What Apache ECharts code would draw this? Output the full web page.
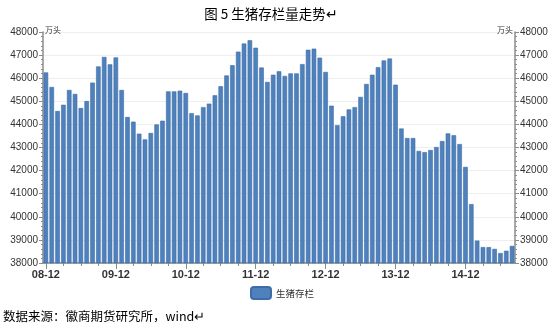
<!DOCTYPE html>
<html>
<head>
<meta charset="utf-8">
<script src="https://cdn.jsdelivr.net/npm/echarts@6/dist/echarts.min.js"></script>
<style>html,body{margin:0;padding:0;background:#fff}#c{width:559px;height:328px}</style>
</head>
<body>
<div id="c"></div>
<script>
const months = (function(){ const a=[]; let y=8,m=12; for(let i=0;i<81;i++){ a.push(String(y).padStart(2,'0')+'-'+String(m).padStart(2,'0')); m++; if(m>12){m=1;y++;} } return a; })();
const values = [
46250,45620,44580,44850,45490,45320,44710,45010,45810,46510,46920,46600,
46900,45490,44320,44120,43600,43350,43630,44000,44160,45430,45430,45460,
45360,44490,44390,44750,44900,45260,45650,46120,46560,47150,47500,47640,
47320,46460,45840,46150,46300,46100,46210,46210,46610,47230,47280,46890,
46270,44810,43970,44350,44650,44750,45190,45750,46150,46480,46770,46850,
45720,43820,43410,43410,42850,42800,42890,43020,43280,43610,43530,43150,
42160,40550,38970,38690,38690,38610,38430,38530,38740
];
const seriesName = '生猪存栏';
const titleText = '图 5 生猪存栏量走势';
const unitText = '万头';
const sourceText = '数据来源：徽商期货研究所，wind';
const yMin = 38000, yMax = 48000, yStep = 1000;

const FONT = 'Liberation Sans, Arial, Noto Sans CJK SC, sans-serif';
const CJK = 'Noto Sans CJK SC, sans-serif';
const axisCol = '#8c8c8c';

const chart = echarts.init(document.getElementById('c'), null, {renderer:'canvas'});
const yAxisCommon = {
  type:'value', min:yMin, max:yMax, interval:yStep,
  axisLine:{show:true, lineStyle:{color:axisCol, width:1.5}},
  axisTick:{show:true, length:4, lineStyle:{color:axisCol}},
  minorTick:{show:true, splitNumber:5, length:2, lineStyle:{color:axisCol}},
  axisLabel:{color:'#333', fontSize:10, fontFamily:FONT, margin:5, formatter:function(v){return String(v);}},
  name:unitText, nameGap:2, nameLocation:'end'
};
chart.setOption({
  animation:false,
  title:{text:titleText + '↵', left:266, top:2, textAlign:'center',
    textStyle:{fontSize:13.5, fontWeight:'normal', color:'#000', fontFamily:CJK}},
  grid:{left:43, right:44, top:32, bottom:65, containLabel:false},
  legend:{data:[seriesName], bottom:28, left:250, padding:0, itemWidth:20, itemHeight:12, itemGap:4,
    textStyle:{fontSize:9.5, color:'#333', fontFamily:CJK}},
  xAxis:[{
    type:'category', data:months, position:'bottom',
    axisLine:{lineStyle:{color:axisCol, width:1.5}},
    axisTick:{show:true, alignWithLabel:true, interval:2, length:3, lineStyle:{color:axisCol}},
    axisLabel:{interval:11, color:'#333', fontSize:11, fontWeight:'bold', fontFamily:FONT, margin:6}
  },{
    type:'category', data:months, position:'bottom',
    axisLine:{show:false},
    axisTick:{show:true, alignWithLabel:true, interval:11, length:6, lineStyle:{color:axisCol}},
    axisLabel:{show:false}
  }],
  yAxis:[
    Object.assign({}, yAxisCommon, {position:'left',
      nameTextStyle:{fontSize:8, color:'#333', fontFamily:CJK, align:'left', verticalAlign:'middle', padding:[0,0,0,2]},
      splitLine:{show:true, lineStyle:{color:'#eeeeee'}}}),
    Object.assign({}, yAxisCommon, {position:'right',
      nameTextStyle:{fontSize:8, color:'#333', fontFamily:CJK, align:'right', verticalAlign:'middle', padding:[0,2,0,0]},
      splitLine:{show:false}})
  ],
  series:[{
    name:seriesName, type:'bar', data:values, xAxisIndex:0, yAxisIndex:0,
    barCategoryGap:'22%',
    itemStyle:{color:'#4F81BD', borderColor:'#3D6DA8', borderWidth:0.6}
  }],
  graphic:[{
    type:'text', left:3, top:310,
    style:{text:sourceText + '↵', fontSize:12.5, fill:'#000', fontFamily:CJK}
  }]
});
</script>
</body>
</html>
